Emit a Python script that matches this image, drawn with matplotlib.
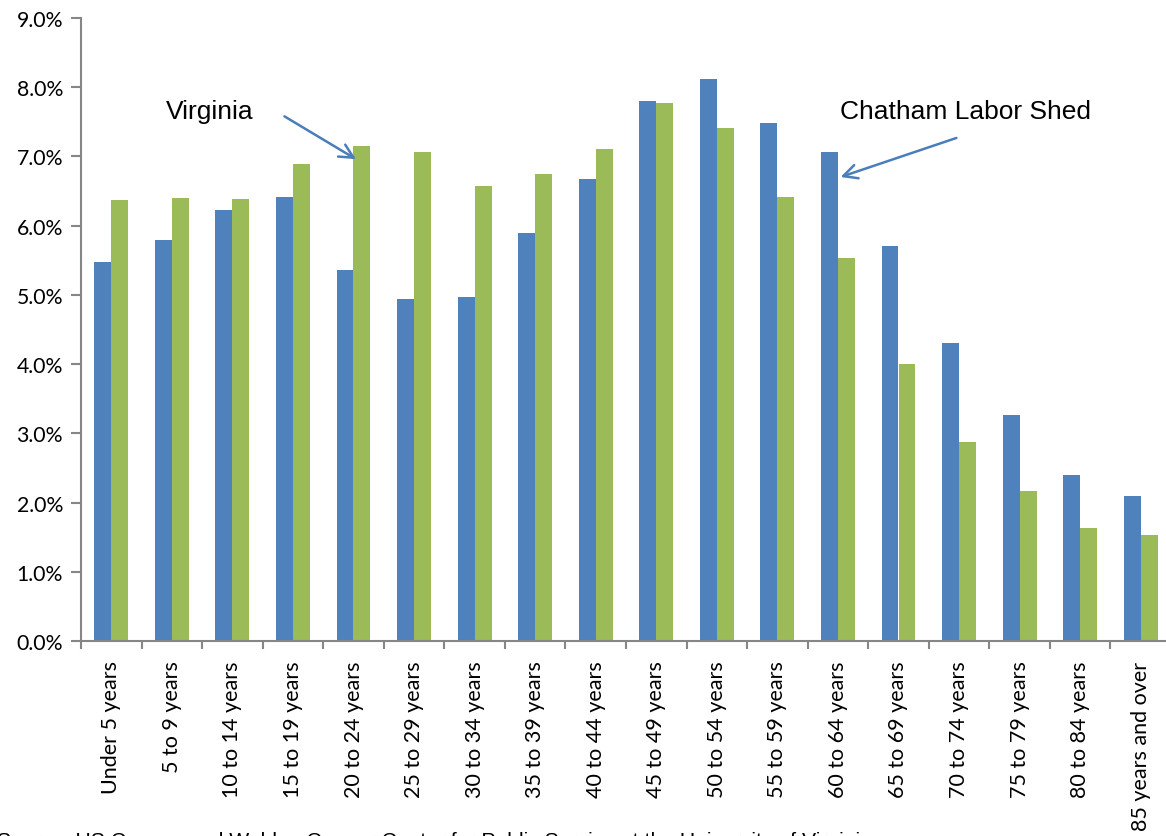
import matplotlib
matplotlib.use("Agg")
import matplotlib.pyplot as plt
import numpy as np
from matplotlib.ticker import FuncFormatter, MultipleLocator

categories = ["Under 5 years", "5 to 9 years", "10 to 14 years", "15 to 19 years",
              "20 to 24 years", "25 to 29 years", "30 to 34 years", "35 to 39 years",
              "40 to 44 years", "45 to 49 years", "50 to 54 years", "55 to 59 years",
              "60 to 64 years", "65 to 69 years", "70 to 74 years", "75 to 79 years",
              "80 to 84 years", "85 years and over"]
chatham = [5.47, 5.80, 6.22, 6.42, 5.36, 4.94, 4.97, 5.90, 6.67, 7.80,
           8.12, 7.48, 7.06, 5.70, 4.30, 3.27, 2.40, 2.10]
virginia = [6.37, 6.40, 6.39, 6.89, 7.15, 7.06, 6.58, 6.75, 7.11, 7.77,
            7.41, 6.41, 5.53, 4.00, 2.87, 2.17, 1.63, 1.53]
source_text = "Source: US Census and Weldon Cooper Center for Public Service at the University of Virginia"

BLUE = "#4F81BD"
GREEN = "#9BBB59"
AXIS = "#868686"
ARROW = "#4A7EBB"

W, H = 1166, 837
fig = plt.figure(figsize=(W / 100, H / 100), dpi=100)
ax = fig.add_axes([81 / W, 1 - 642 / H, 1090 / W, (642 - 19) / H])

x = np.arange(len(categories))
bw = 0.28
ax.bar(x - bw / 2, chatham, width=bw, color=BLUE, linewidth=0)
ax.bar(x + bw / 2, virginia, width=bw, color=GREEN, linewidth=0)

ax.set_xlim(-0.5, len(categories) - 0.5)
ax.set_ylim(0, 9.0)
ax.yaxis.set_major_locator(MultipleLocator(1.0))
ax.yaxis.set_major_formatter(FuncFormatter(lambda v, p: f"{v:.1f}%"))

tickfont = "Lato"
ax.set_xticks(x)
ax.set_xticklabels(categories, rotation=90, fontsize=15.5, family=tickfont)
ax.set_xticks(np.arange(len(categories) + 1) - 0.5, minor=True)
ax.tick_params(axis="x", which="major", length=0, pad=14)
ax.tick_params(axis="x", which="minor", length=6, width=1.5, color=AXIS, direction="out")
ax.tick_params(axis="y", length=7, width=1.5, color=AXIS, direction="out", labelsize=15.3, pad=6)
for lab in ax.get_yticklabels():
    lab.set_family(tickfont)

for s in ["top", "right"]:
    ax.spines[s].set_visible(False)
for s in ["left", "bottom"]:
    ax.spines[s].set_color(AXIS)
    ax.spines[s].set_linewidth(1.5)

# annotations
ax.annotate("", xy=(4 + bw / 2 - 0.06, 6.94), xytext=(2.82, 7.60),
            arrowprops=dict(arrowstyle="->,head_length=1.0,head_width=0.5", color=ARROW, lw=1.8))
ax.text(1.63, 7.66, "Virginia", fontsize=19, family="Liberation Sans", ha="center", va="center")
ax.annotate("", xy=(12.0, 6.69), xytext=(14.0, 7.28),
            arrowprops=dict(arrowstyle="->,head_length=1.0,head_width=0.5", color=ARROW, lw=1.8))
ax.text(14.1, 7.66, "Chatham Labor Shed", fontsize=19, family="Liberation Sans", ha="center", va="center")

fig.text(-3 / W, 1 - 847 / H, source_text, fontsize=15.2, family="Liberation Sans", ha="left", va="baseline")

fig.savefig("out.png", dpi=100)
